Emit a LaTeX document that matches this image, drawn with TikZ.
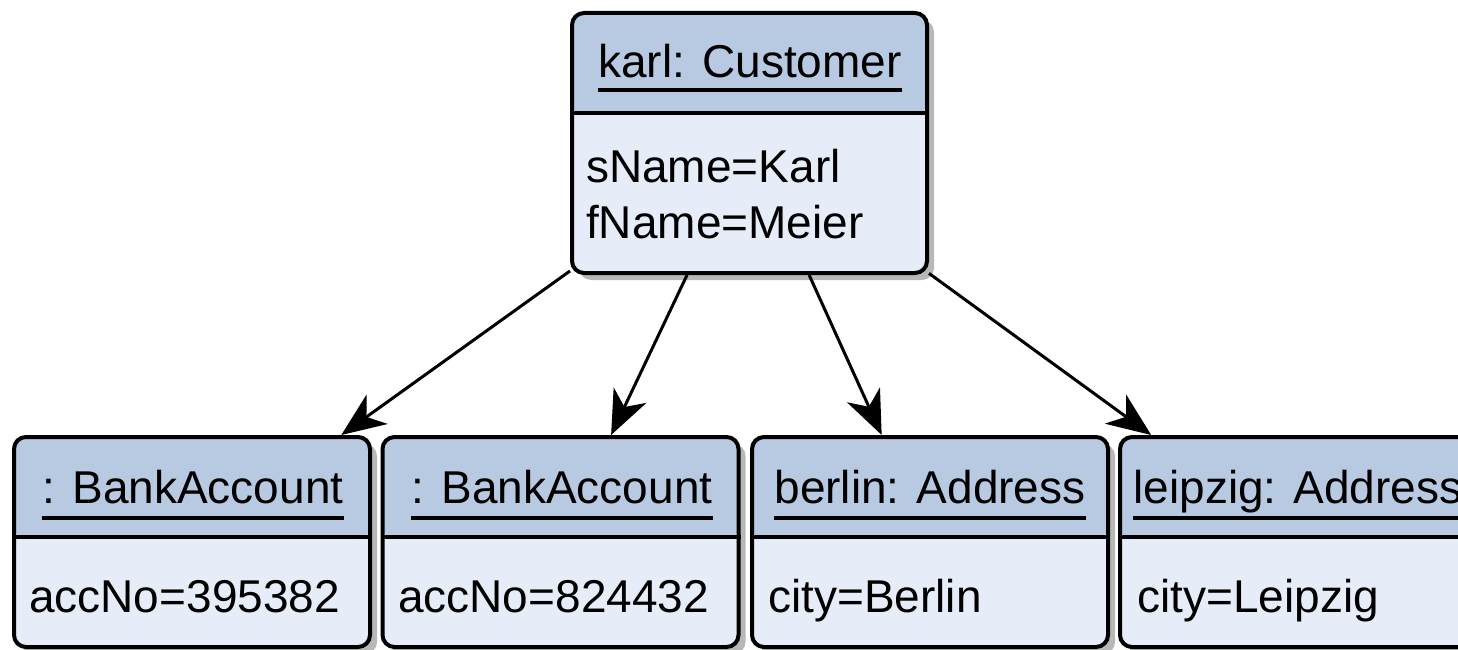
\documentclass[tikz,border=0pt]{standalone}
\usepackage{fontspec}
\setmainfont{Liberation Sans}
\usetikzlibrary{arrows.meta,shadows}
\definecolor{hdr}{RGB}{184,201,226}
\definecolor{bdy}{RGB}{230,237,248}
\tikzset{
  obj/.style={draw, line width=4pt, rounded corners=12pt, fill=bdy, inner sep=0pt,
    drop shadow={shadow xshift=7pt, shadow yshift=-7pt, fill=black, opacity=0.28},
    path picture={\fill[hdr] (path picture bounding box.north west) rectangle ([yshift=-102pt]path picture bounding box.north east);}},
  topbox/.style={obj, minimum width=355pt, minimum height=260pt},
  botbox/.style={obj, minimum width=356pt, minimum height=210pt},
  txt/.style={inner sep=0pt, font=\fontsize{46}{55}\selectfont},
  uline/.style={line width=3.5pt},
  divider/.style={line width=4pt},
  conn/.style={line width=3pt, -{Stealth[length=44pt,width=36pt,inset=13pt]}}
}
\begin{document}
\begin{tikzpicture}[x=1pt,y=-1pt]
\useasboundingbox (0,0) rectangle (1458,650);
% boxes
\node[topbox] (karl) at (749.5,143) {};
\node[botbox] (ba1) at (192,542) {};
\node[botbox] (ba2) at (560.5,542) {};
\node[botbox] (berlin) at (930,542) {};
\node[botbox] (leipzig) at (1298,542) {};
% dividers
\foreach \n in {karl,ba1,ba2,berlin,leipzig}
  \draw[divider] ([yshift=-102pt]\n.north west) -- ([yshift=-102pt]\n.north east);
% header texts
\node[txt, anchor=base] (hk) at (750,78) {karl: Customer};
\node[txt, anchor=base] (h1) at (193,503) {: BankAccount};
\node[txt, anchor=base] (h2) at (562,503) {: BankAccount};
\node[txt, anchor=base] (h3) at (930,503) {berlin: Address};
\node[txt, anchor=base] (h4) at (1298,503) {leipzig: Address};
\draw[uline] ([yshift=-12pt]hk.base west) -- ([yshift=-12pt]hk.base east);
\foreach \n in {h1,h2,h3,h4}
  \draw[uline] ([yshift=-15pt]\n.base west) -- ([yshift=-15pt]\n.base east);
% attributes
\node[txt, anchor=base west] (a1) at (586,182) {sName=Karl};
\node[txt, anchor=base west] (a2) at (586,238) {fName=Meier};
\node[txt, anchor=base west] (b1) at (29,612) {accNo=395382};
\node[txt, anchor=base west] (b2) at (398,612) {accNo=824432};
\node[txt, anchor=base west] (b3) at (768,612) {city=Berlin};
\node[txt, anchor=base west] (b4) at (1137,612) {city=Leipzig};
% connectors
\draw[conn] (karl) -- (ba1);
\draw[conn] (karl) -- (ba2);
\draw[conn] (karl) -- (berlin);
\draw[conn] (karl) -- (leipzig);
\end{tikzpicture}
\end{document}
